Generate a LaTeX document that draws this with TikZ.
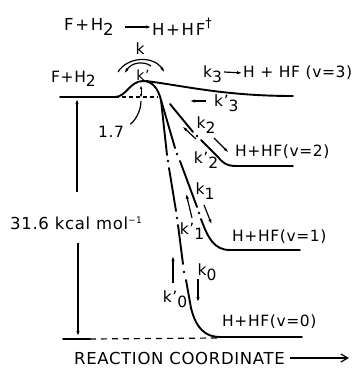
\documentclass[tikz,border=0pt]{standalone}
\usepackage{fontspec}
\setmainfont{DejaVu Sans}[LetterSpace=4]
\usetikzlibrary{arrows.meta}
\newcommand\lo[1]{\raisebox{-0.55ex}{#1}}
\newcommand\hi[1]{\raisebox{0.7ex}{\small #1}}
\begin{document}
\begin{tikzpicture}[x=1pt,y=-1pt,
  curve/.style={line width=1.9pt,line cap=round},
  thin/.style={line width=1.2pt},
  tip/.style={-{Latex[length=6pt,width=3.2pt]}},
  lbl/.style={inner sep=0pt,font=\fontsize{15.5}{17}\selectfont},
  ttl/.style={inner sep=0pt,font=\fontsize{16.5}{18}\selectfont\addfontfeatures{LetterSpace=10}},
  dotmark/.style={fill=black,draw=none}]
\useasboundingbox (0,0) rectangle (357,380);
% title
\node[ttl,anchor=west] (t1) at (64,27) {F+H\lo{2}};
\node[ttl,anchor=west] (t2) at (152,27) {H+HF\raisebox{0.9ex}{\fontsize{13}{14}\selectfont †}};
\coordinate (ta) at (125,27);
\draw[thin,tip] (ta) -- (t2.west);
% k arcs
\node[lbl] (k) at (140,49) {k};
\node[lbl,font=\fontsize{14}{15}\selectfont] (kp) at (143,75) {k'};
\coordinate (a1) at (118,72); \coordinate (a2) at (165,73);
\draw[thin,tip] (a1) .. controls (127,57) and (153,55) .. (a2);
\coordinate (b1) at (151,66); \coordinate (b2) at (124,74);
\draw[thin,tip] (b1) .. controls (144,61) and (132,62) .. (b2);
% reactant level and barrier
\node[lbl,anchor=west] (fh) at (51,79) {F+H\lo{2}};
\coordinate (r0) at (60,97); \coordinate (r1) at (115,97);
\coordinate (pk) at (143,81); \coordinate (sp) at (161,100);
\draw[curve] (r0) -- (r1) .. controls (126,97) and (130,81) .. (pk)
  .. controls (152,81) and (158,88) .. (sp);
\coordinate (bb) at (158,97);
\draw[thin,dash pattern=on 4pt off 3pt] (r1) -- (bb);
% barrier height
\coordinate (h0) at (141,98); \coordinate (h1) at (141,85);
\draw[line width=1pt,{Latex[length=4pt,width=2.5pt]}-{Latex[length=4pt,width=2.5pt]}] (h0) -- (h1);
\node[lbl] (n17) at (111,132) {1.7};
\draw[thin] (n17.north east) ++(6,-2) .. controls (134,122) and (141,112) .. (141,101);
% v=3
\coordinate (v3e) at (293,96);
\draw[curve] (146,81) .. controls (185,86) and (225,96) .. (v3e);
\node[lbl,anchor=west] (k3) at (203,74) {k\lo{3}};
\node[lbl,anchor=west] (p3) at (243,73) {H + HF (v=3)};
\draw[thin,tip] (224,72) -- (p3.west);
\node[lbl,anchor=west] (k3p) at (214,103) {k'\lo{3}};
\draw[thin,tip] (k3p.west) ++(-8,-2) -- (189,101);
% v=2
\draw[curve] (170,104) -- (193,132);
\fill[dotmark] (197,136) circle (1.3);
\draw[curve] (201,140) -- (218,157) .. controls (222,162) and (226,166) .. (236,166) -- (293,166);
\node[lbl,anchor=west] (p2) at (235,152) {H+HF(v=2)};
\node[lbl] (k2) at (206,125) {k\lo{2}};
\node[lbl] (k2p) at (206,160) {k'\lo{2}};
\draw[thin,tip] (196,139) -- (182,126);
\draw[thin,tip] (214,138) -- (229,153);
% v=1
\draw[curve] (sp) -- (175,148);
\fill[dotmark] (177,154) circle (1.3);
\draw[curve] (180,161) -- (197,207);
\fill[dotmark] (199,213) circle (1.3);
\draw[curve] (201,219) .. controls (208,238) and (214,250) .. (230,250) -- (300,250);
\node[lbl,anchor=west] (p1) at (232,237) {H+HF(v=1)};
\node[lbl] (k1) at (205,191) {k\lo{1}};
\node[lbl] (k1p) at (192,231) {k'\lo{1}};
\draw[thin,tip] (192,218) -- (186,193);
\draw[thin,tip] (204,205) -- (212,225);
% v=0
\draw[curve] (sp) -- (167,155);
\fill[dotmark] (168,161) circle (1.3);
\draw[curve] (169,168) -- (176,211);
\fill[dotmark] (177,218) circle (1.3);
\draw[curve] (178,225) -- (183,264);
\fill[dotmark] (184,272) circle (1.3);
\draw[curve] (186,280) -- (191,308) .. controls (196,328) and (205,337) .. (220,337) -- (302,337);
\node[lbl,anchor=west] (p0) at (222,322) {H+HF(v=0)};
\node[lbl] (k0) at (207,272) {k\lo{0}};
\node[lbl] (k0p) at (175,299) {k'\lo{0}};
\draw[thin,tip] (173,283) -- (173,255);
\draw[thin,tip] (198,279) -- (198,303);
% product baseline
\coordinate (g0) at (63,339); \coordinate (g1) at (90,339); \coordinate (g2) at (217,338);
\draw[curve] (g0) -- (g1);
\draw[thin,dash pattern=on 6pt off 5pt] (g1) -- (g2);
% energy arrow
\node[lbl,font=\fontsize{16.5}{18}\selectfont] (en) at (76,223) {31.6 kcal mol\hi{−1}};
\draw[thin,tip] (77,192) -- (77,98);
\draw[thin,tip] (78,243) -- (78,337);
% axis label
\node[lbl,anchor=west,font=\fontsize{16.5}{19}\selectfont] (rc) at (74,358) {REACTION COORDINATE};
\draw[thin,-{Straight Barb[length=7pt,width=8pt]}] (rc.east) ++(5,0) -- (349,358);
\end{tikzpicture}
\end{document}
